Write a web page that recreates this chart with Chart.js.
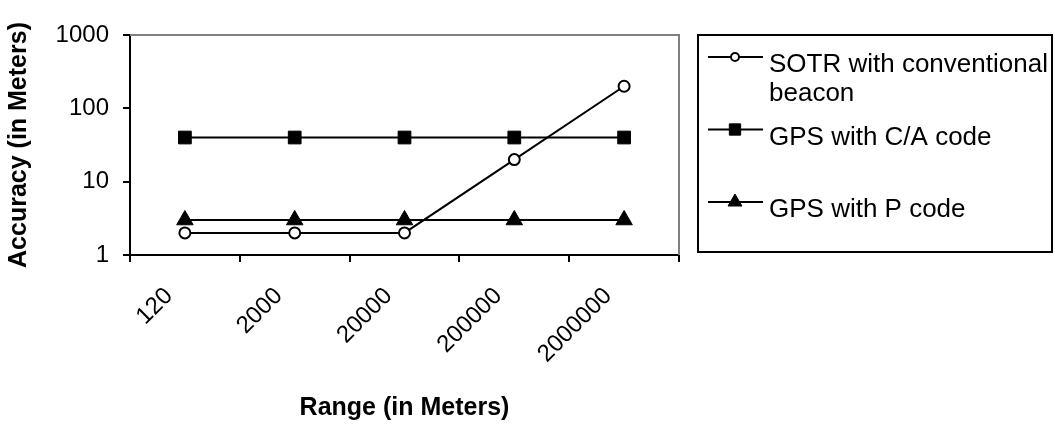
<!DOCTYPE html>
<html>
<head>
<meta charset="utf-8">
<script src="https://cdn.jsdelivr.net/npm/chart.js@4.4.0/dist/chart.umd.min.js"></script>
<style>
  html, body { margin: 0; padding: 0; background: #fff; }
</style>
</head>
<body>
<canvas id="chart" width="1055" height="425"></canvas>
<script>
// range categories (meters)
const ranges = ['120', '2000', '20000', '200000', '2000000'];

// accuracy in meters for each range
const sotr = [2, 2, 2, 20, 200];
const gpsCA = [40, 40, 40, 40, 40];
const gpsP = [3, 3, 3, 3, 3];

const seriesNames = ['SOTR with conventional beacon', 'GPS with C/A code', 'GPS with P code'];
const yTicks = [1, 10, 100, 1000];

Chart.defaults.font.family = '"Liberation Sans", Arial, sans-serif';
Chart.defaults.color = '#000';

// grey frame on top and right of the plot, like the original
const plotFrame = {
    id: 'plotFrame',
    beforeDatasetsDraw(chart) {
        const {ctx, chartArea: a} = chart;
        ctx.save();
        ctx.strokeStyle = '#808080';
        ctx.lineWidth = 2;
        ctx.beginPath();
        ctx.moveTo(a.left, a.top);
        ctx.lineTo(a.right, a.top);
        ctx.lineTo(a.right, a.bottom);
        ctx.stroke();
        ctx.restore();
    }
};

// boxed legend on the right
const boxLegend = {
    id: 'boxLegend',
    afterDraw(chart) {
        const ctx = chart.ctx;
        ctx.save();
        ctx.strokeStyle = '#000';
        ctx.lineWidth = 2;
        ctx.strokeRect(698, 35, 354, 217);

        ctx.font = '26px "Liberation Sans", Arial, sans-serif';
        ctx.textBaseline = 'alphabetic';
        ctx.textAlign = 'left';

        chart.data.datasets.forEach((ds, i) => {
            const y = 57 + i * 72.5;
            ctx.strokeStyle = '#000';
            ctx.lineWidth = 2;
            ctx.beginPath();
            ctx.moveTo(708, y);
            ctx.lineTo(763, y);
            ctx.stroke();

            ctx.fillStyle = ds.pointBackgroundColor;
            ctx.strokeStyle = '#000';
            ctx.lineWidth = ds.pointBorderWidth;
            Chart.helpers.drawPoint(ctx, {
                pointStyle: ds.pointStyle,
                radius: ds.legendRadius,
                borderWidth: ds.pointBorderWidth,
                rotation: 0
            }, 735, y);

            // wrap label to the box width
            ctx.fillStyle = '#000';
            const words = ds.label.split(' ');
            const lines = [];
            let cur = '';
            words.forEach(w => {
                const test = cur ? cur + ' ' + w : w;
                if (ctx.measureText(test).width > 282 && cur) {
                    lines.push(cur);
                    cur = w;
                } else {
                    cur = test;
                }
            });
            lines.push(cur);
            lines.forEach((t, k) => ctx.fillText(t, 769, y + 15 + k * 29));
        });
        ctx.restore();
    }
};

new Chart(document.getElementById('chart'), {
    type: 'line',
    data: {
        labels: ranges,
        datasets: [
            {
                label: seriesNames[0],
                data: sotr,
                borderColor: '#000',
                borderWidth: 2,
                pointStyle: 'circle',
                pointRadius: 5.5,
                pointBorderWidth: 2,
                pointBackgroundColor: '#fff',
                pointBorderColor: '#000',
                legendRadius: 4
            },
            {
                label: seriesNames[1],
                data: gpsCA,
                borderColor: '#000',
                borderWidth: 2,
                pointStyle: 'rect',
                pointRadius: 9,
                pointBorderWidth: 1,
                pointBackgroundColor: '#000',
                pointBorderColor: '#000',
                legendRadius: 8
            },
            {
                label: seriesNames[2],
                data: gpsP,
                borderColor: '#000',
                borderWidth: 2,
                pointStyle: 'triangle',
                pointRadius: 9.5,
                pointBorderWidth: 1,
                pointBackgroundColor: '#000',
                pointBorderColor: '#000',
                legendRadius: 8
            }
        ]
    },
    options: {
        responsive: false,
        animation: false,
        devicePixelRatio: 1,
        layout: {
            padding: {top: 35, right: 376, left: 0, bottom: 0}
        },
        plugins: {
            legend: {display: false},
            tooltip: {enabled: false}
        },
        scales: {
            x: {
                type: 'category',
                offset: true,
                grid: {
                    offset: true,
                    drawOnChartArea: false,
                    tickLength: 7,
                    color: '#000',
                    lineWidth: 2
                },
                border: {color: '#000', width: 2},
                ticks: {
                    font: {size: 24},
                    minRotation: 45,
                    maxRotation: 45,
                    autoSkip: false,
                    padding: 20,
                    labelOffset: -16
                },
                title: {
                    display: true,
                    text: 'Range (in Meters)',
                    font: {size: 25, weight: 'bold'},
                    padding: {top: 0, bottom: 2}
                },
                afterFit(scale) {
                    scale.height = 170;
                }
            },
            y: {
                type: 'logarithmic',
                min: 1,
                max: 1000,
                grid: {
                    drawOnChartArea: false,
                    tickLength: 7,
                    color: '#000',
                    lineWidth: 2
                },
                border: {color: '#000', width: 2},
                ticks: {
                    font: {size: 24},
                    padding: 14,
                    callback: v => String(v)
                },
                afterBuildTicks(scale) {
                    scale.ticks = yTicks.map(v => ({value: v}));
                },
                title: {
                    display: true,
                    text: 'Accuracy (in Meters)',
                    font: {size: 25, weight: 'bold'},
                    padding: {top: 4, bottom: 0}
                },
                afterFit(scale) {
                    scale.width = 130;
                }
            }
        }
    },
    plugins: [plotFrame, boxLegend]
});
</script>
</body>
</html>
